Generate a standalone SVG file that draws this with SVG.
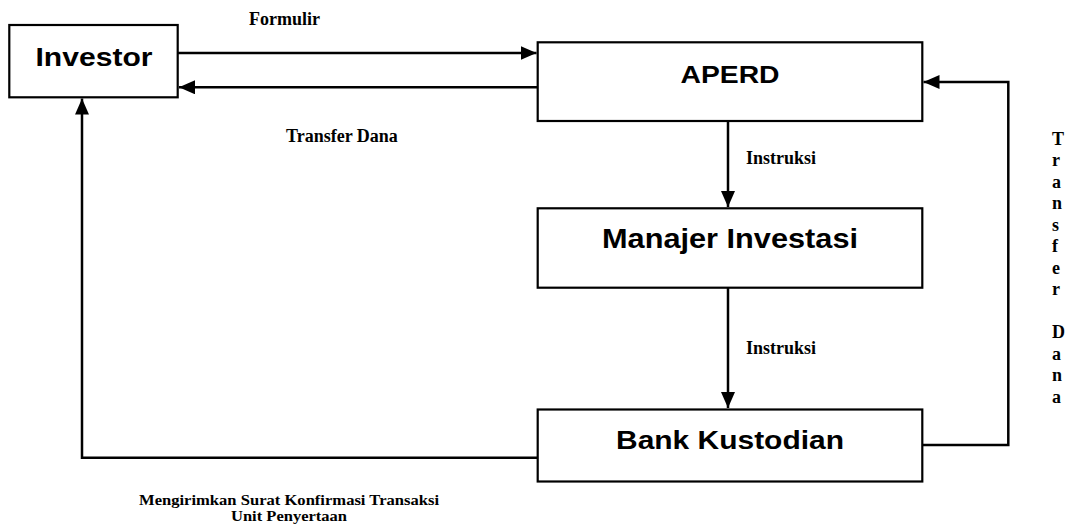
<svg xmlns="http://www.w3.org/2000/svg" width="1069" height="530" viewBox="0 0 1069 530">
<style>
.box{fill:#fff;stroke:#000;stroke-width:2.2}
.nt{font-family:"Liberation Sans",Arial,sans-serif;font-weight:bold;fill:#000}
.lb{font-family:"Liberation Serif","Times New Roman",serif;font-weight:bold;fill:#000}
.cn{fill:none;stroke:#000;stroke-width:2.5}
</style>
<defs>
<marker id="ah" markerUnits="userSpaceOnUse" markerWidth="16" markerHeight="14" refX="16" refY="7" orient="auto">
<path d="M0,0 L16,7 L0,14 z" fill="#000"/>
</marker>
</defs>
<rect width="1069" height="530" fill="#fff"/>
<g id="connectors">
<path class="cn" d="M178,53 H536.5" marker-end="url(#ah)"/>
<path class="cn" d="M537.7,87.3 H179" marker-end="url(#ah)"/>
<path class="cn" d="M728,121 V207" marker-end="url(#ah)"/>
<path class="cn" d="M728,288 V408" marker-end="url(#ah)"/>
<path class="cn" d="M537.7,457.7 H82 V98.5" marker-end="url(#ah)"/>
<path class="cn" d="M922.3,445 H1008.3 V82 H923.5" marker-end="url(#ah)"/>
</g>
<g id="investor">
<rect class="box" x="9.3" y="25" width="168.4" height="72.3"/>
<text class="nt" x="94" y="65.7" font-size="26" text-anchor="middle" textLength="117" lengthAdjust="spacingAndGlyphs">Investor</text>
</g>
<g id="aperd">
<rect class="box" x="537.7" y="42.3" width="384.6" height="78.7"/>
<text class="nt" x="730" y="83.3" font-size="24" text-anchor="middle" textLength="99" lengthAdjust="spacingAndGlyphs">APERD</text>
</g>
<g id="manajer">
<rect class="box" x="537.7" y="208.3" width="384.6" height="79.4"/>
<text class="nt" x="730" y="248.3" font-size="27.5" text-anchor="middle" textLength="256" lengthAdjust="spacingAndGlyphs">Manajer Investasi</text>
</g>
<g id="bank">
<rect class="box" x="537.7" y="409.5" width="384.6" height="72"/>
<text class="nt" x="730" y="449" font-size="25.5" text-anchor="middle" textLength="228" lengthAdjust="spacingAndGlyphs">Bank Kustodian</text>
</g>
<g id="labels">
<text class="lb" x="249" y="25" font-size="18">Formulir</text>
<text class="lb" x="286" y="142" font-size="18">Transfer Dana</text>
<text class="lb" x="746" y="164" font-size="18">Instruksi</text>
<text class="lb" x="746" y="354" font-size="18">Instruksi</text>
<text class="lb" x="289" y="505" font-size="15" text-anchor="middle" textLength="300" lengthAdjust="spacingAndGlyphs">Mengirimkan Surat Konfirmasi Transaksi</text>
<text class="lb" x="289" y="520.5" font-size="15" text-anchor="middle" textLength="116" lengthAdjust="spacingAndGlyphs">Unit Penyertaan</text>
<text class="lb" font-size="18">
<tspan x="1052" y="144.5">T</tspan>
<tspan x="1052" y="166">r</tspan>
<tspan x="1052" y="187.5">a</tspan>
<tspan x="1052" y="209">n</tspan>
<tspan x="1052" y="230.5">s</tspan>
<tspan x="1052" y="252">f</tspan>
<tspan x="1052" y="273.5">e</tspan>
<tspan x="1052" y="295">r</tspan>
<tspan x="1052" y="338">D</tspan>
<tspan x="1052" y="359.5">a</tspan>
<tspan x="1052" y="381">n</tspan>
<tspan x="1052" y="402.5">a</tspan>
</text>
</g>
</svg>
